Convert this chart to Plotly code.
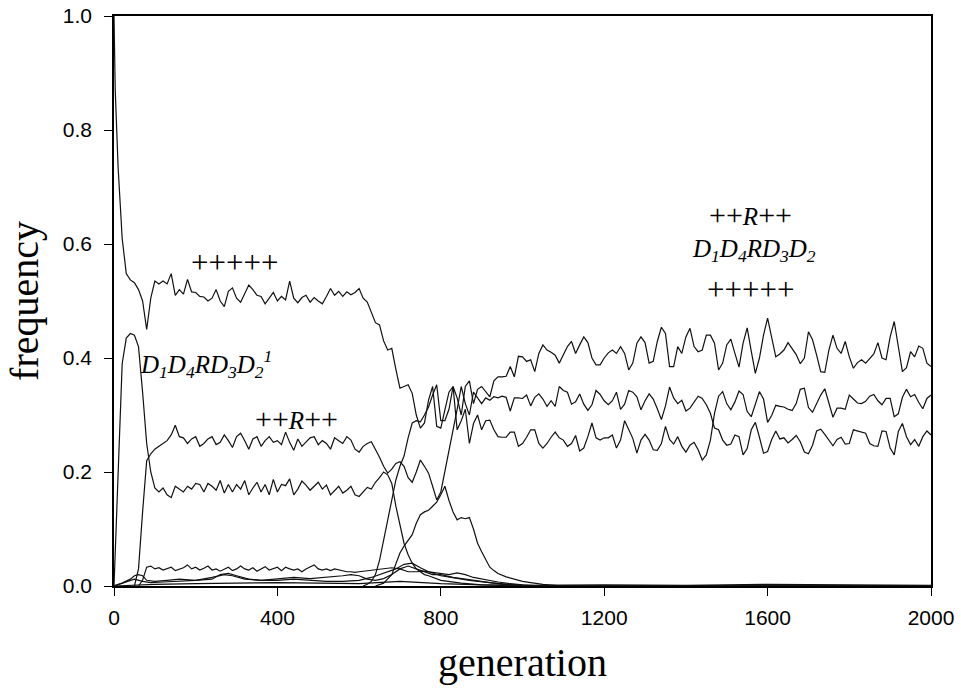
import plotly.graph_objects as go

# ---------------- data ----------------
# +++++ (wild type)
gen_wt = [0, 3] + list(range(10, 2001, 10))
freq_wt = [1.0, 0.87,
    0.735, 0.61, 0.548, 0.537, 0.532, 0.52, 0.50, 0.45, 0.505, 0.535,
    0.53, 0.535, 0.53, 0.548, 0.51, 0.52, 0.512, 0.538, 0.516, 0.515,
    0.508, 0.507, 0.500, 0.505, 0.52, 0.50, 0.49, 0.517, 0.523, 0.505,
    0.498, 0.512, 0.528, 0.52, 0.51, 0.508, 0.495, 0.505, 0.515, 0.500,
    0.508, 0.502, 0.535, 0.505, 0.497, 0.506, 0.51, 0.498, 0.506, 0.500,
    0.495, 0.508, 0.522, 0.51, 0.517, 0.508, 0.516, 0.511, 0.515, 0.522,
    0.505, 0.498, 0.48, 0.462, 0.458, 0.43, 0.414, 0.417, 0.38, 0.347,
    0.35, 0.353, 0.338, 0.30, 0.277, 0.286, 0.326, 0.35, 0.28, 0.277,
    0.309, 0.34, 0.35, 0.274, 0.29, 0.31, 0.25, 0.285, 0.30, 0.274,
    0.29, 0.291, 0.274, 0.262,
    0.261, 0.261, 0.270, 0.270, 0.245, 0.250, 0.261, 0.274, 0.274, 0.250,
    0.242, 0.250, 0.261, 0.270, 0.260, 0.256, 0.245, 0.250, 0.264, 0.237,
    0.242, 0.262, 0.286, 0.260, 0.256, 0.260, 0.260, 0.265, 0.242, 0.256,
    0.290, 0.274, 0.259, 0.233, 0.256, 0.266, 0.256, 0.239, 0.238, 0.250,
    0.280, 0.257, 0.249, 0.262, 0.245, 0.235, 0.247, 0.252, 0.239, 0.221,
    0.230, 0.256, 0.303, 0.333,
    0.341, 0.320, 0.309, 0.323, 0.342, 0.336, 0.306, 0.297, 0.321, 0.341,
    0.328, 0.287, 0.299, 0.317, 0.315, 0.314, 0.310, 0.308, 0.320, 0.345,
    0.347, 0.313, 0.305, 0.319, 0.335, 0.346, 0.322, 0.296, 0.312, 0.312,
    0.310, 0.335, 0.328, 0.321, 0.320, 0.324, 0.333, 0.336, 0.325, 0.318,
    0.329, 0.329, 0.297, 0.302, 0.331, 0.345, 0.332, 0.336, 0.322, 0.311,
    0.329, 0.335]

# ++R++ (early plateau ~0.25)
gen_rr = list(range(50, 2001, 10))
freq_rr = [
    0.0, 0.03, 0.13, 0.22, 0.232, 0.24, 0.245, 0.25, 0.255, 0.265,
    0.282, 0.262, 0.26, 0.25, 0.258, 0.262, 0.245, 0.25, 0.258, 0.262,
    0.248, 0.252, 0.265, 0.255, 0.243, 0.262, 0.268, 0.255, 0.24, 0.258,
    0.262, 0.245, 0.255, 0.262, 0.252, 0.255, 0.248, 0.27, 0.252, 0.238,
    0.258, 0.245, 0.252, 0.26, 0.262, 0.248, 0.255, 0.25, 0.24, 0.26,
    0.255, 0.25, 0.262, 0.256, 0.24, 0.235, 0.245, 0.25, 0.253, 0.24,
    0.226, 0.21, 0.198, 0.205, 0.215, 0.218, 0.21, 0.19, 0.182, 0.20,
    0.221, 0.21, 0.198, 0.175, 0.151, 0.165, 0.20, 0.24, 0.27, 0.31,
    0.35, 0.32, 0.30, 0.34, 0.33, 0.32, 0.33, 0.326, 0.332, 0.33,
    0.333, 0.331, 0.307, 0.330, 0.330, 0.329, 0.335, 0.316, 0.331, 0.337,
    0.328, 0.315, 0.325, 0.315, 0.350, 0.343, 0.340, 0.319, 0.323, 0.337,
    0.319, 0.308, 0.318, 0.343, 0.336, 0.325, 0.318, 0.325, 0.340, 0.310,
    0.319, 0.343, 0.340, 0.332, 0.309, 0.325, 0.337, 0.328, 0.311, 0.292,
    0.316, 0.349, 0.330, 0.320, 0.326, 0.307, 0.312, 0.323, 0.333, 0.329,
    0.318, 0.303, 0.277, 0.274,
    0.256, 0.247, 0.249, 0.265, 0.262, 0.230, 0.241, 0.274, 0.287, 0.261,
    0.233, 0.236, 0.257, 0.272, 0.258, 0.260, 0.251, 0.257, 0.264, 0.253,
    0.235, 0.232, 0.247, 0.272, 0.275, 0.266, 0.256, 0.246, 0.257, 0.261,
    0.249, 0.250, 0.274, 0.272, 0.270, 0.268, 0.250, 0.246, 0.245, 0.272,
    0.271, 0.242, 0.230, 0.271, 0.285, 0.262, 0.248, 0.257, 0.245, 0.262,
    0.272, 0.265]

# D1D4RD3D2' (early peak, then ~0.17 plateau)
gen_dp = list(range(0, 801, 10)) + [850, 900, 1000, 2000]
freq_dp = [
    0.0, 0.20, 0.39, 0.435, 0.443, 0.44, 0.42, 0.34, 0.25, 0.20,
    0.172, 0.165, 0.172, 0.16, 0.155, 0.175, 0.17, 0.165, 0.175, 0.17,
    0.18, 0.178, 0.165, 0.18, 0.175, 0.168, 0.185, 0.163, 0.178, 0.165,
    0.178, 0.17, 0.185, 0.16, 0.172, 0.182, 0.165, 0.178, 0.16, 0.187,
    0.165, 0.178, 0.176, 0.188, 0.16, 0.17, 0.184, 0.177, 0.168, 0.175,
    0.182, 0.17, 0.177, 0.16, 0.168, 0.175, 0.163, 0.168, 0.175, 0.16,
    0.157, 0.165, 0.173, 0.17, 0.182, 0.19, 0.20, 0.195, 0.18, 0.14,
    0.105, 0.075, 0.055, 0.04, 0.03, 0.025, 0.02, 0.018, 0.015, 0.012,
    0.01, 0.005, 0.002, 0.0, 0.0]

# D1D4RD3D2 (new recombinant, final top plateau)
gen_rec = list(range(610, 2001, 10))
freq_rec = [
    0.0, 0.003, 0.008, 0.02, 0.045, 0.08, 0.11, 0.15, 0.186, 0.21,
    0.228, 0.26, 0.286, 0.29, 0.288, 0.30, 0.314, 0.335, 0.353, 0.29,
    0.29, 0.31, 0.35, 0.33, 0.30, 0.35, 0.36, 0.32, 0.345, 0.35,
    0.34, 0.332, 0.36, 0.367,
    0.367, 0.368, 0.385, 0.367, 0.403, 0.402, 0.394, 0.397, 0.376, 0.408,
    0.423, 0.414, 0.410, 0.405, 0.391, 0.405, 0.420, 0.429, 0.408, 0.423,
    0.437, 0.427, 0.400, 0.388, 0.388, 0.400, 0.409, 0.414, 0.408, 0.420,
    0.408, 0.379, 0.391, 0.426, 0.437, 0.427, 0.391, 0.394, 0.429, 0.454,
    0.443, 0.385, 0.385, 0.420, 0.408, 0.437, 0.452, 0.420, 0.411, 0.414,
    0.440, 0.440, 0.426, 0.379,
    0.391, 0.423, 0.433, 0.408, 0.384, 0.426, 0.453, 0.412, 0.373, 0.400,
    0.440, 0.470, 0.437, 0.402, 0.407, 0.414, 0.427, 0.416, 0.406, 0.390,
    0.400, 0.446, 0.432, 0.405, 0.376, 0.375, 0.414, 0.440, 0.417, 0.408,
    0.429, 0.402, 0.382, 0.392, 0.397, 0.391, 0.400, 0.407, 0.427, 0.400,
    0.397, 0.437, 0.464, 0.417, 0.376, 0.383, 0.411, 0.402, 0.421, 0.417,
    0.391, 0.385]

# transient genotype peaking near generation 810
gen_tr = [640, 660, 680, 700, 710, 720, 730, 740, 750, 760, 770, 780, 790,
          800, 810, 820, 830, 840, 850, 860, 870, 880, 890, 900, 910, 920,
          930, 940, 960, 980, 1000, 1020, 1050, 1100, 2000]
freq_tr = [0.0, 0.005, 0.02, 0.058, 0.07, 0.08, 0.09, 0.11, 0.125, 0.13,
           0.133, 0.14, 0.147, 0.16, 0.175, 0.15, 0.13, 0.116, 0.12, 0.118,
           0.12, 0.10, 0.075, 0.06, 0.045, 0.033, 0.027, 0.022, 0.016,
           0.012, 0.008, 0.006, 0.003, 0.0, 0.0]

# low-frequency genotypes
gen_low1 = [60, 70, 80, 90, 100, 110, 120, 130, 140, 150, 160, 170, 180,
            190, 200, 210, 220, 230, 240, 250, 260, 270, 280, 290, 300, 310,
            320, 330, 340, 350, 360, 370, 380, 390, 400, 410, 420, 430, 440,
            450, 460, 470, 480, 490, 500, 510, 520, 530, 540, 550, 560, 570,
            580, 590, 600, 620, 640, 660, 680, 700, 720, 740, 760, 780, 800,
            820, 840, 860, 880, 900, 920, 940, 970, 1000, 1050, 2000]
freq_low1 = [0.0, 0.01, 0.033, 0.035, 0.03, 0.032, 0.028, 0.03, 0.033,
             0.027, 0.03, 0.032, 0.037, 0.03, 0.033, 0.028, 0.031, 0.035,
             0.028, 0.03, 0.026, 0.03, 0.033, 0.027, 0.03, 0.035, 0.03,
             0.028, 0.032, 0.026, 0.03, 0.034, 0.028, 0.03, 0.033, 0.027,
             0.033, 0.03, 0.028, 0.03, 0.025, 0.03, 0.033, 0.037, 0.03,
             0.028, 0.03, 0.027, 0.03, 0.028, 0.026, 0.025, 0.025, 0.024,
             0.025, 0.027, 0.028, 0.03, 0.032, 0.03, 0.025, 0.025, 0.026,
             0.024, 0.022, 0.02, 0.023, 0.02, 0.015, 0.012, 0.01, 0.007,
             0.004, 0.002, 0.0, 0.0]

gen_low2 = [0, 20, 40, 50, 60, 70, 80, 100, 130, 160, 200, 240, 260, 280,
            300, 330, 360, 400, 440, 480, 520, 560, 580, 600, 620, 640, 660,
            680, 700, 720, 740, 760, 780, 800, 830, 860, 900, 950, 1000,
            1050, 2000]
freq_low2 = [0.0, 0.005, 0.012, 0.018, 0.02, 0.018, 0.01, 0.008, 0.01,
             0.012, 0.01, 0.012, 0.02, 0.022, 0.018, 0.012, 0.01, 0.012,
             0.015, 0.013, 0.015, 0.018, 0.02, 0.018, 0.012, 0.01, 0.013,
             0.02, 0.03, 0.035, 0.03, 0.025, 0.02, 0.02, 0.015, 0.012,
             0.008, 0.003, 0.001, 0.0, 0.0]

gen_low3 = [0, 30, 50, 70, 90, 120, 160, 200, 240, 270, 290, 320, 360,
            400, 440, 480, 520, 560, 600, 630, 660, 690, 710, 730, 750, 770,
            800, 830, 870, 920, 980, 1030, 2000]
freq_low3 = [0.0, 0.008, 0.012, 0.008, 0.006, 0.007, 0.008, 0.01, 0.015,
             0.02, 0.018, 0.012, 0.01, 0.01, 0.012, 0.01, 0.008, 0.008,
             0.01, 0.015, 0.022, 0.03, 0.038, 0.04, 0.032, 0.025, 0.018,
             0.014, 0.01, 0.006, 0.002, 0.0, 0.0]

gen_low4 = [0, 100, 200, 300, 400, 500, 600, 700, 800, 900, 1000, 1200,
            1400, 1600, 1800, 2000]
freq_low4 = [0.0, 0.003, 0.004, 0.005, 0.006, 0.005, 0.004, 0.008, 0.004,
             0.002, 0.001, 0.002, 0.001, 0.003, 0.002, 0.001]

x_ticks = [0, 400, 800, 1200, 1600, 2000]
y_ticks = [0.0, 0.2, 0.4, 0.6, 0.8, 1.0]

# ---------------- figure ----------------
fig = go.Figure()
series = [
    (gen_low4, freq_low4), (gen_low3, freq_low3), (gen_low2, freq_low2),
    (gen_low1, freq_low1), (gen_tr, freq_tr), (gen_dp, freq_dp),
    (gen_rr, freq_rr), (gen_rec, freq_rec), (gen_wt, freq_wt),
]
for gx, fy in series:
    assert len(gx) == len(fy), (len(gx), len(fy))
    fig.add_trace(go.Scatter(x=gx, y=fy, mode="lines",
                             line=dict(color="#111111", width=1.2),
                             showlegend=False, hoverinfo="skip"))

serif = "Liberation Serif, Times New Roman, serif"
ann_font = dict(family=serif, size=25, color="#000000")
plus5 = "<span style='font-size:31px'>+++++</span>"
plus2 = "<span style='font-size:30px'>++</span>"
annotations = [
    dict(x=296, y=0.567, text=plus5),
    dict(x=226, y=0.39,
         text="<i>D<sub>1</sub>D<sub>4</sub>RD<sub>3</sub>D<sub>2</sub><sup>1</sup></i>"),
    dict(x=447, y=0.293, text=plus2 + "<i>R</i>" + plus2),
    dict(x=1559, y=0.651, text=plus2 + "<i>R</i>" + plus2),
    dict(x=1567, y=0.588,
         text="<i>D<sub>1</sub>D<sub>4</sub>RD<sub>3</sub>D<sub>2</sub></i>"),
    dict(x=1558, y=0.521, text=plus5),
]
for a in annotations:
    a.update(xref="x", yref="y", showarrow=False, font=ann_font,
             xanchor="center", yanchor="middle")

axis_common = dict(
    showgrid=False, zeroline=False, showline=True, linecolor="black",
    linewidth=1.5, mirror=True, ticks="outside", ticklen=8, tickwidth=1.3,
    tickcolor="black", automargin=False,
    tickfont=dict(family="Liberation Sans, Arial, sans-serif", size=21,
                  color="black"),
)

fig.update_layout(
    template="none",
    width=961, height=692,
    margin=dict(l=114, r=30, t=16, b=106, pad=0),
    paper_bgcolor="white", plot_bgcolor="white",
    annotations=annotations,
    xaxis=dict(range=[0, 2000], tickvals=x_ticks, ticklabelstandoff=4,
               title=dict(text="generation",
                          font=dict(family=serif, size=40, color="black"),
                          standoff=20),
               **axis_common),
    yaxis=dict(range=[0, 1.0], tickvals=y_ticks, tickformat=".1f",
               ticklabelstandoff=8,
               title=dict(text="frequency",
                          font=dict(family=serif, size=40, color="black"),
                          standoff=12),
               **axis_common),
)

fig.write_html("out.html", config={"displayModeBar": False},
               post_script="document.body.style.margin='0';")
